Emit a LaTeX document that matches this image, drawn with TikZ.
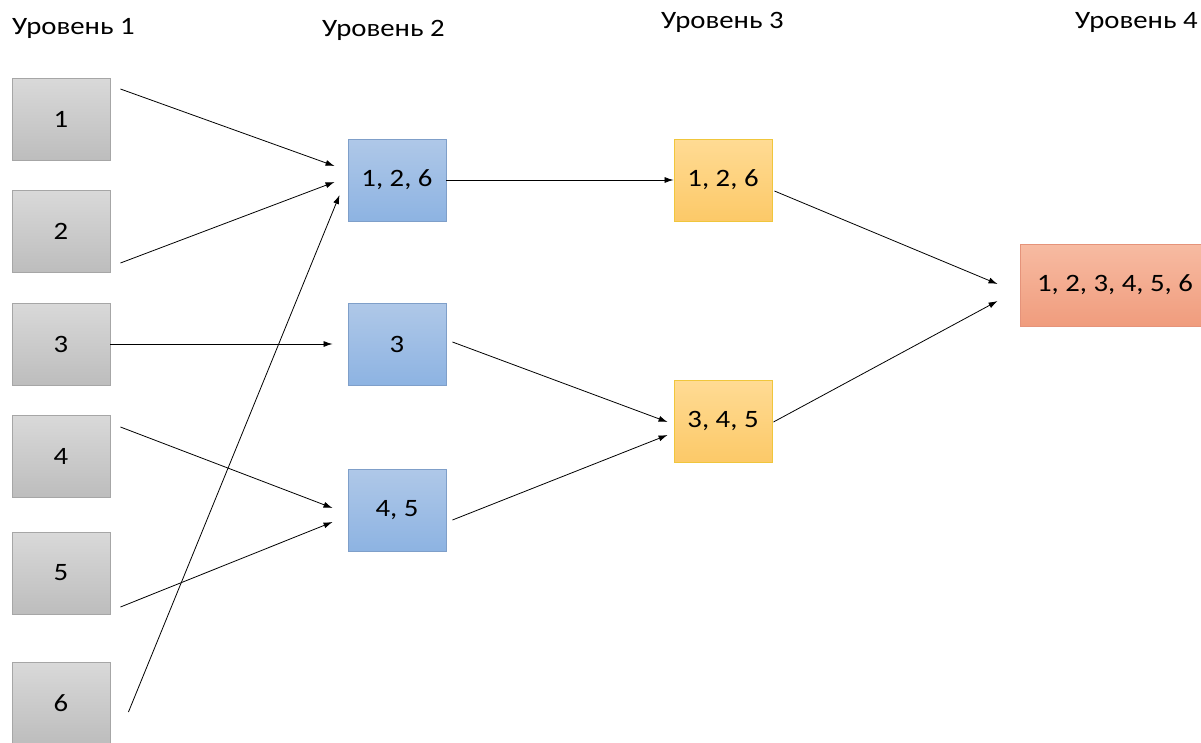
\documentclass[tikz,border=0pt]{standalone}
\usepackage{fontspec}
\setmainfont[FakeStretch=1.15]{Carlito}
\usetikzlibrary{arrows.meta,positioning}
\definecolor{LvlGrayT}{HTML}{D9D9D9}
\definecolor{LvlGrayB}{HTML}{BDBDBD}
\definecolor{LvlGrayD}{HTML}{A6A6A6}
\definecolor{LvlBlueT}{HTML}{AFC8E8}
\definecolor{LvlBlueB}{HTML}{8DB3E2}
\definecolor{LvlBlueD}{HTML}{7F9FC9}
\definecolor{LvlGoldT}{HTML}{FFDB94}
\definecolor{LvlGoldB}{HTML}{FCC968}
\definecolor{LvlGoldD}{HTML}{F0C63C}
\definecolor{LvlRedT}{HTML}{F7BBA2}
\definecolor{LvlRedB}{HTML}{F09C7D}
\definecolor{LvlRedD}{HTML}{E5937A}

\begin{document}
\begin{tikzpicture}[x=1pt,y=-1pt,font=\fontsize{25}{29}\selectfont,
  b/.style={line width=0.9pt,minimum width=98pt,minimum height=82pt,inner sep=0pt,align=center},
  gray/.style={b,draw=LvlGrayD,top color=LvlGrayT,bottom color=LvlGrayB},
  blue/.style={b,draw=LvlBlueD,top color=LvlBlueT,bottom color=LvlBlueB},
  gold/.style={b,draw=LvlGoldD,top color=LvlGoldT,bottom color=LvlGoldB},
  red/.style={b,draw=LvlRedD,top color=LvlRedT,bottom color=LvlRedB},
  arr/.style={-{Latex[length=9pt,width=6pt]},line width=0.8pt}]
  \useasboundingbox (0,0) rectangle (1201,742);
  % headers
  \node[anchor=west,inner sep=0pt] (h1) at (12,28) {Уровень 1};
  \node[anchor=west,inner sep=0pt] (h2) at (322,30) {Уровень 2};
  \node[anchor=west,inner sep=0pt] (h3) at (661,22) {Уровень 3};
  \node[anchor=west,inner sep=0pt] (h4) at (1075,22) {Уровень 4};
  % level 1
  \node[gray] (n1) at (61,119) {1};
  \node[gray] (n2) at (61,231) {2};
  \node[gray] (n3) at (61,344) {3};
  \node[gray] (n4) at (61,456) {4};
  \node[gray] (n5) at (61,573) {5};
  \node[gray] (n6) at (61,703) {6};
  % level 2
  \node[blue] (a) at (397,180) {1, 2, 6};
  \node[blue] (b) at (397,344) {3};
  \node[blue] (c) at (397,510) {4, 5};
  % level 3
  \node[gold] (d) at (723,180) {1, 2, 6};
  \node[gold] (e) at (723,421) {3, 4, 5};
  % level 4
  \node[red,minimum width=190pt] (f) at (1115,285) {1, 2, 3, 4, 5, 6};
  % arrows
  \draw[arr] ([shift={(10,-30)}]n1.east) -- ([shift={(-13,-14)}]a.west);
  \draw[arr] ([shift={(10,32)}]n2.east) -- ([shift={(-13,2)}]a.west);
  \draw[arr] ([shift={(18,9)}]n6.east) -- ([shift={(-8,15)}]a.west);
  \draw[arr] (n3.east) -- ([shift={(-15,0)}]b.west);
  \draw[arr] ([shift={(10,-29)}]n4.east) -- ([shift={(-15,-2)}]c.west);
  \draw[arr] ([shift={(10,34)}]n5.east) -- ([shift={(-15,12)}]c.west);
  \draw[arr] (a.east) -- (d.west);
  \draw[arr] ([shift={(6,-2)}]b.east) -- ([shift={(-6,1)}]e.west);
  \draw[arr] ([shift={(6,10)}]c.east) -- ([shift={(-6,14)}]e.west);
  \draw[arr] ([shift={(2,11)}]d.east) -- ([shift={(-22,-1)}]f.west);
  \draw[arr] ([shift={(1,1)}]e.east) -- ([shift={(-22,16)}]f.west);
\end{tikzpicture}
\end{document}
